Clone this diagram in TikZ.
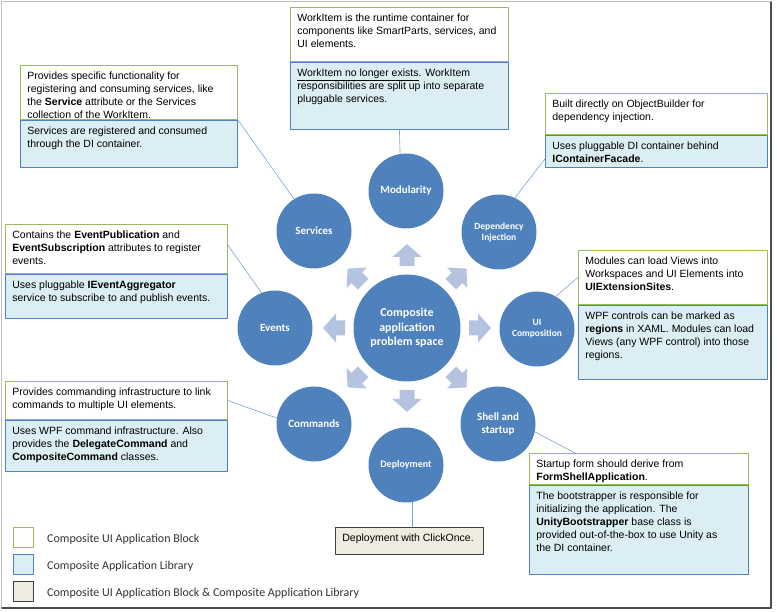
\documentclass[tikz,border=0pt]{standalone}
\usepackage{fontspec}
\setmainfont{Liberation Sans}
\newfontfamily\segoe{Carlito}
\definecolor{circblue}{rgb}{0.31,0.506,0.741}
\definecolor{boxgreen}{rgb}{0.608,0.733,0.349}
\definecolor{boxblue}{rgb}{0.31,0.506,0.741}
\definecolor{palecyan}{rgb}{0.859,0.933,0.953}
\definecolor{arrowgray}{rgb}{0.706,0.769,0.878}
\definecolor{linkblue}{rgb}{0.49,0.63,0.82}
\definecolor{tanfill}{rgb}{0.933,0.925,0.882}
\newcommand{\boxtxt}[3]{\parbox[c][#2][t]{#1}{\begin{tabular}[t]{@{}l@{}}#3\end{tabular}}}

\begin{document}
\begin{tikzpicture}[line cap=round,line join=round,x=1pt,y=-1pt,
	circ/.style={circle,fill=circblue,text=white,align=center,inner sep=0pt,minimum size=75pt,font=\segoe\bfseries\fontsize{11}{13}\selectfont},
	cuab/.style={draw=boxgreen,fill=white,anchor=north west,inner xsep=7pt,inner ysep=5pt,line width=0.8pt,font=\fontsize{10.5}{13}\selectfont},
	cal/.style={cuab,draw=boxblue,fill=palecyan},
	both/.style={cuab,draw=black!75,fill=tanfill},
	link/.style={draw=linkblue,line width=0.6pt},
	legsq/.style={minimum size=20pt,inner sep=0pt,line width=0.8pt},
	legtxt/.style={anchor=west,inner sep=0pt,font=\segoe\fontsize{12}{14}\selectfont,text=black!80}]
		\useasboundingbox (0,0) rectangle (777,612);
		\draw[gray!50] (1,1) rectangle (771,608);
		\draw[black!70,line width=1.2pt] (771,2) -- (771,608) -- (2,608);
		\node[circ,minimum size=107pt,font=\segoe\bfseries\fontsize{12}{14.5}\selectfont] (prob) at (407,328) {Composite\\application\\problem space};
		\node[circ] (mod) at (406,191) {Modularity};
		\node[circ] (serv) at (314,231) {Services};
		\node[circ,font=\segoe\bfseries\fontsize{9.5}{11}\selectfont] (di) at (499,232) {Dependency\\Injection};
		\node[circ] (ev) at (275,328) {Events};
		\node[circ,font=\segoe\bfseries\fontsize{9.5}{11}\selectfont] (ui) at (537,329) {UI\\Composition};
		\node[circ] (cmd) at (314,424) {Commands};
		\node[circ] (shell) at (498,424) {Shell and\\startup};
		\node[circ,font=\segoe\bfseries\fontsize{10}{12}\selectfont] (dep) at (406,465) {Deployment};
		\foreach \a in {0,45,...,315}
			\fill[arrowgray,shift={(prob.center)},rotate=\a] (62,-7.5) -- (71,-7.5) -- (71,-14.5) -- (84,0) -- (71,14.5) -- (71,7.5) -- (62,7.5) -- cycle;
		\node[cuab] (modtop) at (290,7) {\boxtxt{204pt}{44pt}{WorkItem is the runtime container for\\components like SmartParts, services, and\\UI elements.}};
		\node[cal] (modbot) at (modtop.south west) {\boxtxt{204pt}{57pt}{\underline{WorkItem no longer exists}. WorkItem\\responsibilities are split up into separate\\pluggable services.}};
		\node[cuab] (servtop) at (20,65) {\boxtxt{203pt}{44pt}{Provides specific functionality for\\registering and consuming services, like\\the \textbf{Service} attribute or the Services\\collection of the WorkItem.}};
		\node[cal] (servbot) at (servtop.south west) {\boxtxt{203pt}{37pt}{Services are registered and consumed\\through the DI container.}};
		\node[cuab] (ditop) at (545,93) {\boxtxt{208pt}{31pt}{Built directly on ObjectBuilder for\\dependency injection.}};
		\node[cal] (dibot) at (ditop.south west) {\boxtxt{208pt}{22pt}{Uses pluggable DI container behind\\\textbf{IContainerFacade}.}};
		\node[cuab] (evtop) at (5,224) {\boxtxt{208pt}{39pt}{Contains the \textbf{EventPublication} and\\\textbf{EventSubscription} attributes to register\\events.}};
		\node[cal] (evbot) at (evtop.south west) {\boxtxt{208pt}{34pt}{Uses pluggable \textbf{IEventAggregator}\\service to subscribe to and publish events.}};
		\node[cuab] (uitop) at (578,250) {\boxtxt{175pt}{44pt}{Modules can load Views into\\Workspaces and UI Elements into\\\textbf{UIExtensionSites}.}};
		\node[cal] (uibot) at (uitop.south west) {\boxtxt{175pt}{64pt}{WPF controls can be marked as\\\textbf{regions} in XAML. Modules can load\\Views (any WPF control) into those\\regions.}};
		\node[cuab] (cmdtop) at (5,381) {\boxtxt{208pt}{28pt}{Provides commanding infrastructure to link\\commands to multiple UI elements.}};
		\node[cal] (cmdbot) at (cmdtop.south west) {\boxtxt{208pt}{41pt}{Uses WPF command infrastructure. Also\\provides the \textbf{DelegateCommand} and\\\textbf{CompositeCommand} classes.}};
		\node[cuab] (shelltop) at (529,453) {\boxtxt{205pt}{21pt}{Startup form should derive from\\\textbf{FormShellApplication}.}};
		\node[cal] (shellbot) at (shelltop.south west) {\boxtxt{205pt}{79pt}{The bootstrapper is responsible for\\initializing the application. The\\\textbf{UnityBootstrapper} base class is\\provided out-of-the-box to use Unity as\\the DI container.}};
		\node[both] (depbox) at (335,527) {\boxtxt{134pt}{17pt}{Deployment with ClickOnce.}};
		\draw[link] (modbot.south) -- (mod.99);
		\draw[link] (servbot.north east) -- (serv.122);
		\draw[link] (dibot.184) -- (di.65);
		\draw[link] (evtop.2) -- (ev.111);
		\draw[link] (uitop.west) -- (ui.60);
		\draw[link] (cmdtop.east) -- (cmd.171);
		\draw[link] (shelltop.166) -- (shell.-12);
		\draw[link] (dep.-80) -- (dep.-80 |- depbox.north);
		\node[legsq,draw=boxgreen,fill=white] (leg1) at (23,537) {};
		\node[legsq,draw=boxblue,fill=palecyan] (leg2) at (23,564) {};
		\node[legsq,draw=black!75,fill=tanfill] (leg3) at (23,591) {};
		\node[legtxt] (leg1t) at (47,539) {Composite UI Application Block};
		\node[legtxt] (leg2t) at (47,566) {Composite Application Library};
		\node[legtxt] (leg3t) at (47,593) {Composite UI Application Block \& Composite Application Library};
	\end{tikzpicture}
\end{document}
